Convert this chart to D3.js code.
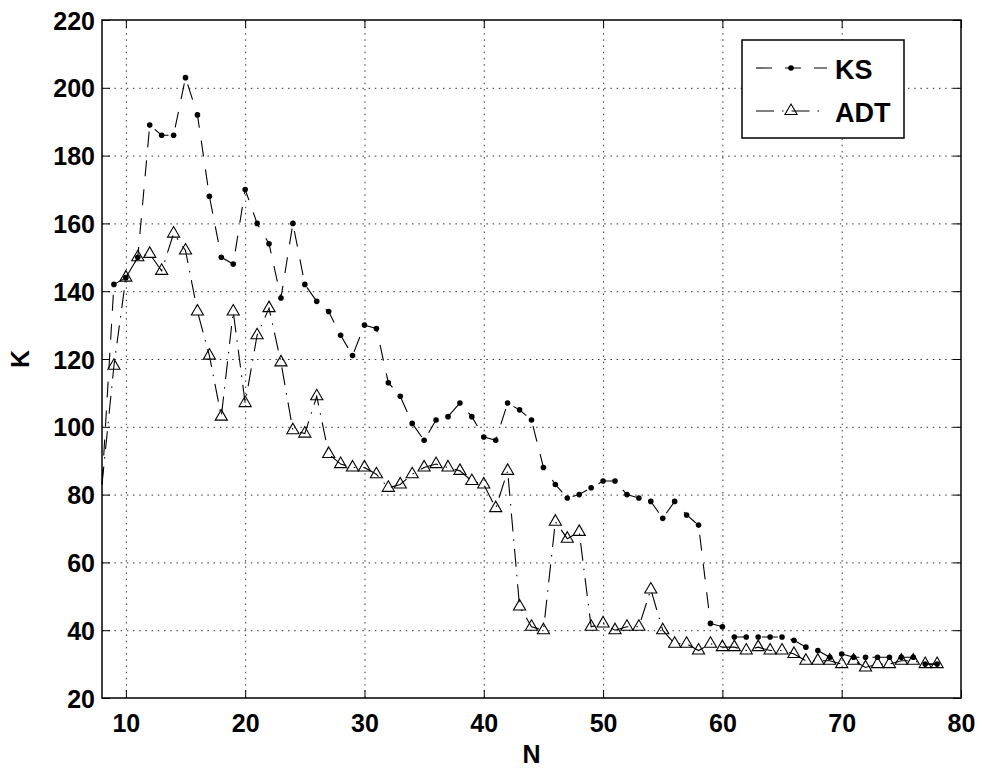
<!DOCTYPE html>
<head>
<meta charset="utf-8">
<script src="https://d3js.org/d3.v7.min.js"></script>
<style>
    body {
        margin: 0;
        background: #fff;
    }
    svg {
        display: block;
        font-family: "Liberation Sans", Arial, sans-serif;
        font-weight: bold;
    }
    .axis text {
        font-size: 25px;
        fill: #000;
    }
    .axis path,
    .grid path {
        display: none;
    }
    .axis line {
        stroke: #000;
    }
    .grid line {
        stroke: #333;
        stroke-dasharray: 1.5, 4.7;
    }
    .grid text {
        display: none;
    }
</style>
</head>
<body>
<script>

    // N values (x)
    var nValues = [8, 9, 10, 11, 12, 13, 14, 15, 16, 17,
        18, 19, 20, 21, 22, 23, 24, 25, 26, 27,
        28, 29, 30, 31, 32, 33, 34, 35, 36, 37,
        38, 39, 40, 41, 42, 43, 44, 45, 46, 47,
        48, 49, 50, 51, 52, 53, 54, 55, 56, 57,
        58, 59, 60, 61, 62, 63, 64, 65, 66, 67,
        68, 69, 70, 71, 72, 73, 74, 75, 76, 77, 78];

    var ksValues = [83, 142, 144, 150, 189, 186, 186, 203, 192, 168,
        150, 148, 170, 160, 154, 138, 160, 142, 137, 134,
        127, 121, 130, 129, 113, 109, 101, 96, 102, 103,
        107, 103, 97, 96, 107, 105, 102, 88, 83, 79,
        80, 82, 84, 84, 80, 79, 78, 73, 78, 74,
        71, 42, 41, 38, 38, 38, 38, 38, 37, 35,
        34, 32, 33, 32, 32, 32, 32, 32, 32, 30, 30];

    var adtValues = [83, 118, 144, 150, 151, 146, 157, 152, 134, 121,
        103, 134, 107, 127, 135, 119, 99, 98, 109, 92,
        89, 88, 88, 86, 82, 83, 86, 88, 89, 88,
        87, 84, 83, 76, 87, 47, 41, 40, 72, 67,
        69, 41, 42, 40, 41, 41, 52, 40, 36, 36,
        34, 36, 35, 35, 34, 35, 34, 34, 33, 31,
        31, 31, 30, 31, 29, 30, 30, 31, 31, 30, 30];

    var xTicks = [10, 20, 30, 40, 50, 60, 70, 80];
    var yTicks = [20, 40, 60, 80, 100, 120, 140, 160, 180, 200, 220];
    var seriesNames = ["KS", "ADT"];

    var margin = {top: 20, right: 21, bottom: 71, left: 102},
        width = 982 - margin.left - margin.right,
        height = 769 - margin.top - margin.bottom;

    var x = d3.scaleLinear()
        .domain([8, 80])
        .range([0, width]);

    var y = d3.scaleLinear()
        .domain([20, 220])
        .range([height, 0]);

    var svg = d3.select("body").append("svg")
        .attr("width", 982)
        .attr("height", 769)
        .append("g")
        .attr("transform", "translate(" + margin.left + "," + margin.top + ")");

    // dotted grid
    svg.append("g")
        .attr("class", "grid")
        .attr("transform", "translate(0," + height + ")")
        .call(d3.axisBottom(x).tickValues(xTicks.slice(0, -1)).tickSize(-height).tickFormat(""));

    svg.append("g")
        .attr("class", "grid")
        .call(d3.axisLeft(y).tickValues(yTicks.slice(1, -1)).tickSize(-width).tickFormat(""));

    var ksData = nValues.map(function(n, i) { return [n, ksValues[i]]; });
    var adtData = nValues.map(function(n, i) { return [n, adtValues[i]]; });

    var line = d3.line()
        .x(function(d) { return x(d[0]); })
        .y(function(d) { return y(d[1]); });

    var ksDash = "16,13",
        adtDash = "18,8,1.5,8";

    svg.append("path")
        .datum(adtData)
        .attr("fill", "none")
        .attr("stroke", "#000")
        .attr("stroke-width", 1.1)
        .attr("stroke-dasharray", adtDash)
        .attr("d", line);

    svg.append("path")
        .datum(ksData)
        .attr("fill", "none")
        .attr("stroke", "#000")
        .attr("stroke-width", 1.1)
        .attr("stroke-dasharray", ksDash)
        .attr("d", line);

    var tri = d3.symbol().type(d3.symbolTriangle).size(64);

    svg.append("g")
        .selectAll("path")
        .data(adtData.slice(1))
        .enter().append("path")
        .attr("d", tri)
        .attr("transform", function(d) { return "translate(" + x(d[0]) + "," + y(d[1]) + ")"; })
        .attr("fill", "none")
        .attr("stroke", "#000")
        .attr("stroke-width", 1.1);

    svg.append("g")
        .selectAll("circle")
        .data(ksData.slice(1))
        .enter().append("circle")
        .attr("cx", function(d) { return x(d[0]); })
        .attr("cy", function(d) { return y(d[1]); })
        .attr("r", 2.8)
        .attr("fill", "#000");

    // axes, ticks inward on all four sides
    svg.append("g")
        .attr("class", "axis")
        .attr("transform", "translate(0," + height + ")")
        .call(d3.axisBottom(x).tickValues(xTicks).tickSizeInner(-8).tickSizeOuter(0).tickPadding(16));

    svg.append("g")
        .attr("class", "axis")
        .call(d3.axisTop(x).tickValues(xTicks).tickSizeInner(-8).tickSizeOuter(0).tickFormat(""));

    svg.append("g")
        .attr("class", "axis")
        .call(d3.axisLeft(y).tickValues(yTicks).tickSizeInner(-8).tickSizeOuter(0).tickPadding(7))
        .selectAll("text")
        .attr("dy", "0.36em");

    svg.append("g")
        .attr("class", "axis")
        .attr("transform", "translate(" + width + ",0)")
        .call(d3.axisRight(y).tickValues(yTicks).tickSizeInner(-8).tickSizeOuter(0).tickFormat(""));

    svg.append("rect")
        .attr("width", width)
        .attr("height", height)
        .attr("fill", "none")
        .attr("stroke", "#000")
        .attr("stroke-width", 1.5);

    svg.append("text")
        .attr("x", width / 2)
        .attr("y", height + 65)
        .attr("text-anchor", "middle")
        .style("font-size", "25px")
        .text("N");

    svg.append("text")
        .attr("transform", "translate(-73," + height / 2 + ") rotate(-90)")
        .attr("text-anchor", "middle")
        .style("font-size", "25px")
        .text("K");

    // legend
    var legend = svg.append("g")
        .attr("transform", "translate(" + (742 - margin.left) + "," + (40 - margin.top) + ")");

    legend.append("rect")
        .attr("width", 162)
        .attr("height", 98)
        .attr("fill", "#fff")
        .attr("stroke", "#000")
        .attr("stroke-width", 1.5);

    var rows = [
        {name: seriesNames[0], dash: ksDash, y: 28},
        {name: seriesNames[1], dash: adtDash, y: 71}
    ];

    rows.forEach(function(r, i) {
        legend.append("line")
            .attr("x1", 14)
            .attr("x2", 85)
            .attr("y1", r.y)
            .attr("y2", r.y)
            .attr("stroke", "#000")
            .attr("stroke-width", 1.1)
            .attr("stroke-dasharray", r.dash);
        if (i === 0) {
            legend.append("circle")
                .attr("cx", 49)
                .attr("cy", r.y)
                .attr("r", 2.8)
                .attr("fill", "#000");
        } else {
            legend.append("path")
                .attr("d", tri)
                .attr("transform", "translate(49," + r.y + ")")
                .attr("fill", "none")
                .attr("stroke", "#000")
                .attr("stroke-width", 1.1);
        }
        legend.append("text")
            .attr("x", 93)
            .attr("y", r.y + 11)
            .style("font-size", "27px")
            .text(r.name);
    });
</script>
</body>
